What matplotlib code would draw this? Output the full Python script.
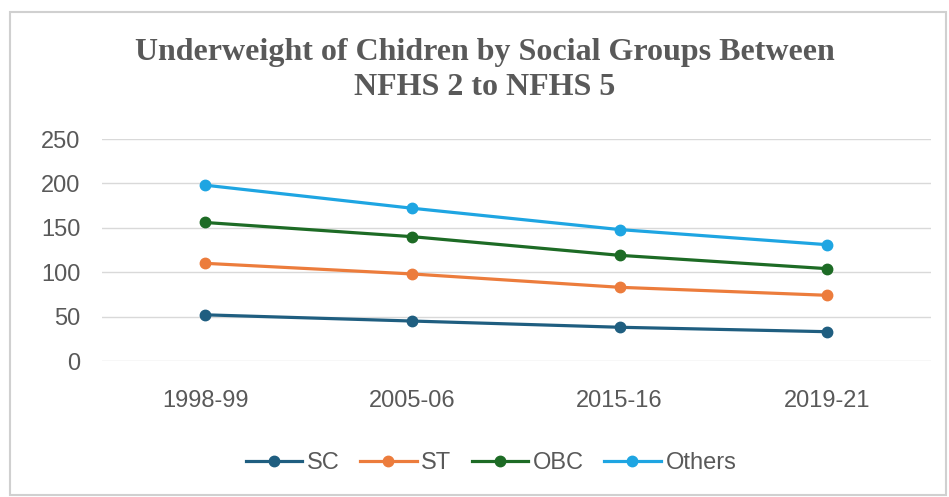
import matplotlib.pyplot as plt
from matplotlib.patches import Rectangle

# data
years = ["1998-99", "2005-06", "2015-16", "2019-21"]
sc = [52, 45, 38, 33]
st = [110, 98, 83, 74]
obc = [156, 140, 119, 104]
others = [198, 172, 148, 131]

series = [("SC", sc, "#1f5e80"), ("ST", st, "#ec7c3c"),
          ("OBC", obc, "#1d6b25"), ("Others", others, "#1ea5e2")]

fig = plt.figure(figsize=(9.49, 4.97), dpi=100)
ax = fig.add_axes([101.5/949, 1-361/497, 829/949, 222/497])

x = range(len(years))
for name, vals, col in series:
    ax.plot(x, vals, color=col, lw=2.3, marker="o", ms=7.5, label=name)

ax.set_xlim(-0.5, len(years)-0.5)
ax.set_ylim(0, 250)
ax.set_yticks(range(0, 251, 50))
ax.set_xticks(list(x))
ax.set_xticklabels(years)
ax.grid(axis="y", color="#d9d9d9", lw=1)
ax.set_axisbelow(True)
for s in ax.spines.values():
    s.set_visible(False)
ax.tick_params(length=0, labelsize=17, colors="#595959")
ax.tick_params(axis="x", pad=21)
ax.tick_params(axis="y", pad=15)
for t in ax.get_xticklabels() + ax.get_yticklabels():
    t.set_fontfamily("Liberation Sans")

fig.text(485/949, 1-70/497, "Underweight of Chidren by Social Groups Between\nNFHS 2 to NFHS 5",
         ha="center", va="center", fontsize=23, fontweight="bold", color="#595959",
         family="Liberation Serif", linespacing=1.25)

leg = fig.legend(loc="center", bbox_to_anchor=(491/949, 1-463/497), ncol=4, frameon=False,
                 prop={"family": "Liberation Sans", "size": 17}, handlelength=2.4,
                 columnspacing=0.85, handletextpad=0.2)
for t in leg.get_texts():
    t.set_color("#595959")

fig.patches.append(Rectangle((10/949, 2/497), 936/949, 483/497, transform=fig.transFigure,
                             fill=False, ec="#d0d0d0", lw=1.5))

fig.savefig("out.png", dpi=100)
